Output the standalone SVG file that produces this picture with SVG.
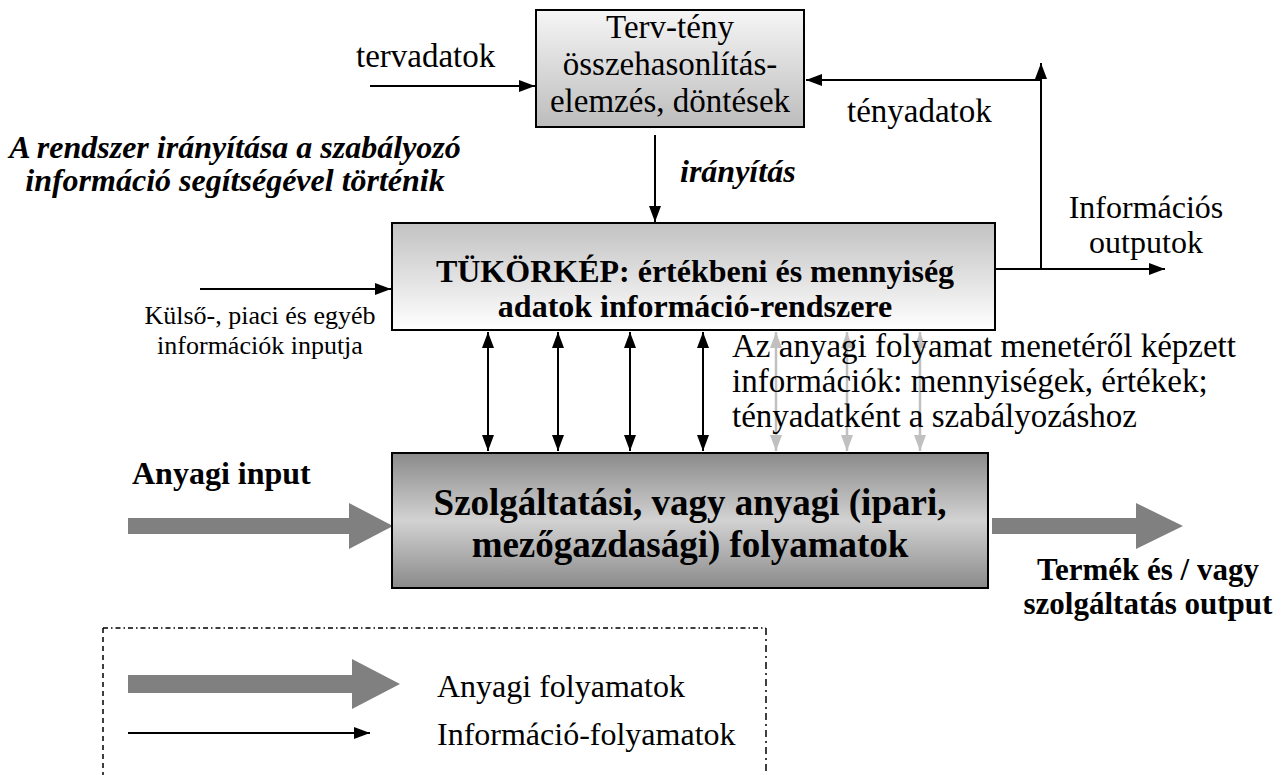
<svg xmlns="http://www.w3.org/2000/svg" width="1286" height="775" viewBox="0 0 1286 775">
<style>
.t{font-family:"Liberation Serif","Times New Roman",serif;fill:#000}
.r33{font-size:33px}
.r32{font-size:32px}
.r26{font-size:26px}
.b31{font-size:31px;font-weight:bold}
.b32{font-size:32px;font-weight:bold}
.b37{font-size:37px;font-weight:bold}
.bi{font-size:32px;font-weight:bold;font-style:italic}
.ln{stroke:#000;stroke-width:2;fill:none}
.lg{stroke:#c0c0c0;stroke-width:2.5;fill:none}
.box{stroke:#000;stroke-width:2}
.fat{fill:#808080}
</style>
<defs>
<marker id="ah" markerUnits="userSpaceOnUse" markerWidth="18" markerHeight="14" refX="16" refY="6" orient="auto-start-reverse" viewBox="0 0 18 14">
<path d="M0,0 L16,6 L0,12 z" fill="#000"/>
</marker>
<marker id="ahg" markerUnits="userSpaceOnUse" markerWidth="18" markerHeight="14" refX="16" refY="6" orient="auto-start-reverse" viewBox="0 0 18 14">
<path d="M0,0 L16,6 L0,12 z" fill="#c0c0c0"/>
</marker>
<linearGradient id="gTop" x1="0" y1="0" x2="0" y2="1">
<stop offset="0" stop-color="#f6f6f6"/>
<stop offset="1" stop-color="#bcbcbc"/>
</linearGradient>
<linearGradient id="gMid" x1="0" y1="0" x2="0" y2="1">
<stop offset="0" stop-color="#c2c2c2"/>
<stop offset="1" stop-color="#ffffff"/>
</linearGradient>
<linearGradient id="gBot" x1="0" y1="0" x2="0" y2="1">
<stop offset="0" stop-color="#8a8a8a"/>
<stop offset="0.5" stop-color="#d2d2d2"/>
<stop offset="1" stop-color="#8a8a8a"/>
</linearGradient>
</defs>
<rect width="1286" height="775" fill="#fff"/>

<g id="connectors">
<line class="ln" x1="370" y1="86" x2="535" y2="86" marker-end="url(#ah)"/>
<line class="ln" x1="1041" y1="80" x2="806" y2="80" marker-end="url(#ah)"/>
<line class="ln" x1="1041" y1="269" x2="1041" y2="63" marker-end="url(#ah)"/>
<line class="ln" x1="655" y1="135" x2="655" y2="222" marker-end="url(#ah)"/>
<line class="ln" x1="200" y1="289" x2="391" y2="289" marker-end="url(#ah)"/>
<line class="ln" x1="995" y1="269" x2="1165" y2="269" marker-end="url(#ah)"/>
<line class="ln" x1="488" y1="332" x2="488" y2="451" marker-start="url(#ah)" marker-end="url(#ah)"/>
<line class="ln" x1="558" y1="332" x2="558" y2="451" marker-start="url(#ah)" marker-end="url(#ah)"/>
<line class="ln" x1="630" y1="332" x2="630" y2="451" marker-start="url(#ah)" marker-end="url(#ah)"/>
<line class="ln" x1="703" y1="332" x2="703" y2="451" marker-start="url(#ah)" marker-end="url(#ah)"/>
<line class="lg" x1="776" y1="332" x2="776" y2="451" marker-start="url(#ahg)" marker-end="url(#ahg)"/>
<line class="lg" x1="847" y1="332" x2="847" y2="451" marker-start="url(#ahg)" marker-end="url(#ahg)"/>
<line class="lg" x1="920" y1="332" x2="920" y2="451" marker-start="url(#ahg)" marker-end="url(#ahg)"/>
<path class="fat" d="M128,518 H349 V503 L393,526 L349,549 V534 H128 z"/>
<path class="fat" d="M992,518 H1136 V503 L1183,526 L1136,549 V534 H992 z"/>
</g>

<g id="node-plan">
<rect class="box" x="536" y="10" width="268" height="117" fill="url(#gTop)"/>
<text class="t r33" x="670" y="38" text-anchor="middle">Terv-tény</text>
<text class="t r33" x="670" y="75" text-anchor="middle">összehasonlítás-</text>
<text class="t r33" x="670" y="112" text-anchor="middle">elemzés, döntések</text>
</g>

<g id="node-mirror">
<rect class="box" x="392" y="223" width="603" height="107" fill="url(#gMid)"/>
<text class="t b32" x="695" y="282" text-anchor="middle">TÜKÖRKÉP: értékbeni és mennyiség</text>
<text class="t b32" x="695" y="317" text-anchor="middle">adatok információ-rendszere</text>
</g>

<g id="node-process">
<rect class="box" x="392" y="453" width="596" height="135" fill="url(#gBot)"/>
<text class="t b37" x="690" y="515" text-anchor="middle">Szolgáltatási, vagy anyagi (ipari,</text>
<text class="t b37" x="690" y="557" text-anchor="middle">mezőgazdasági) folyamatok</text>
</g>

<g id="labels">
<text class="t r33" x="356" y="67">tervadatok</text>
<text class="t r33" x="847" y="122">tényadatok</text>
<text class="t bi" x="235" y="158" text-anchor="middle">A rendszer irányítása a szabályozó</text>
<text class="t bi" x="235" y="191" text-anchor="middle">információ segítségével történik</text>
<text class="t bi" x="680" y="182">irányítás</text>
<text class="t r32" x="1146" y="218" text-anchor="middle">Információs</text>
<text class="t r32" x="1146" y="253" text-anchor="middle">outputok</text>
<text class="t r26" x="260" y="324" text-anchor="middle">Külső-, piaci és egyéb</text>
<text class="t r26" x="260" y="354" text-anchor="middle">információk inputja</text>
<text class="t r33" x="732" y="357">Az anyagi folyamat menetéről képzett</text>
<text class="t r33" x="732" y="392">információk: mennyiségek, értékek;</text>
<text class="t r33" x="732" y="427">tényadatként a szabályozáshoz</text>
<text class="t b32" x="132" y="484">Anyagi input</text>
<text class="t b31" x="1148" y="580" text-anchor="middle">Termék és / vagy</text>
<text class="t b31" x="1148" y="614" text-anchor="middle">szolgáltatás output</text>
</g>

<g id="legend">
<line x1="103" y1="628" x2="766" y2="628" stroke="#000" stroke-width="1.5" stroke-dasharray="5 3 1.5 3"/>
<line x1="103" y1="628" x2="103" y2="775" stroke="#000" stroke-width="1.5" stroke-dasharray="5 4"/>
<line x1="766" y1="628" x2="766" y2="775" stroke="#000" stroke-width="1.5" stroke-dasharray="7 4 2 4"/>
<path class="fat" d="M128,675 H352 V659 L400,684 L352,709 V693 H128 z"/>
<line class="ln" x1="128" y1="733" x2="370" y2="733" marker-end="url(#ah)"/>
<text class="t r32" x="437" y="697">Anyagi folyamatok</text>
<text class="t r32" x="437" y="745">Információ-folyamatok</text>
</g>
</svg>
